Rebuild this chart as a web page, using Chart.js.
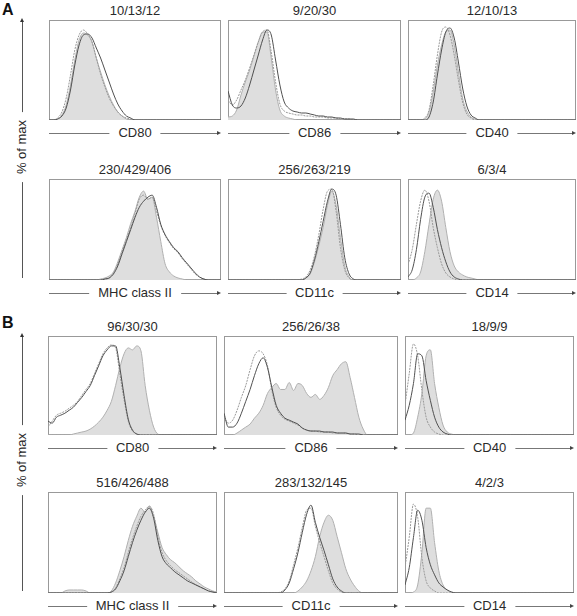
<!DOCTYPE html>
<html>
<head>
<meta charset="utf-8">
<script src="https://cdn.jsdelivr.net/npm/chart.js@4.4.0/dist/chart.umd.min.js"></script>
<style>
    body { margin: 0; background: #fff; font-family: "Liberation Sans", Arial, sans-serif; color: #2a2a2a; }
    #fig { position: relative; width: 577px; height: 616px; overflow: hidden; }
    .panel { position: absolute; }
    .title { position: absolute; font-size: 13px; line-height: 14px; text-align: center; white-space: nowrap; }
    .xlab { position: absolute; height: 14px; }
    .xlab .line { position: absolute; left: 0; right: 3px; top: 7px; height: 1px; background: #777; }
    .xlab .head { position: absolute; right: 0; top: 5px; width: 0; height: 0;
        border-top: 2.5px solid transparent; border-bottom: 2.5px solid transparent; border-left: 4px solid #444; }
    .xlab span { position: absolute; left: 50%; top: 0; transform: translateX(-50%); background: #fff;
        padding: 0 9px; font-size: 13px; line-height: 14px; white-space: nowrap; }
    .ylab { position: absolute; width: 14px; }
    .ylab .line { position: absolute; left: 7px; top: 3px; bottom: 0; width: 1px; background: #555; }
    .ylab .head { position: absolute; left: 5px; top: 0; width: 0; height: 0;
        border-left: 2.5px solid transparent; border-right: 2.5px solid transparent; border-bottom: 4px solid #333; }
    .ylab span { position: absolute; left: 7px; transform: translate(-50%, -50%) rotate(-90deg); background: #fff;
        padding: 0 8px; font-size: 13px; line-height: 14px; white-space: nowrap; }
    .letter { position: absolute; font-size: 16px; font-weight: bold; line-height: 16px; color: #111; }
</style>
</head>
<body>
<div id="fig"></div>
<script>
// x positions of histogram channels (log scale, % of axis)
const X = [0, 2.5, 5, 7.5, 10, 12.5, 15, 17.5, 20, 22.5, 25, 27.5, 30, 32.5, 35, 37.5, 40, 42.5, 45, 47.5,
    50, 52.5, 55, 57.5, 60, 62.5, 65, 67.5, 70, 72.5, 75, 77.5, 80, 82.5, 85, 87.5, 90, 92.5, 95, 97.5, 100];

const titles = ['10/13/12', '9/20/30', '12/10/13', '230/429/406', '256/263/219', '6/3/4',
    '96/30/30', '256/26/38', '18/9/9', '516/426/488', '283/132/145', '4/2/3'];
const markers = ['CD80', 'CD86', 'CD40', 'MHC class II', 'CD11c', 'CD14',
    'CD80', 'CD86', 'CD40', 'MHC class II', 'CD11c', 'CD14'];

// Panel A
const aCd80Fill = [0,0,1,5,15,35,60,80,87,85,78,62,48,35,24,15,8,4,1,0,0,0,0,0,0,0,0,0,0,0,0,0,0,0,0,0,0,0,0,0,0];
const aCd80Dark = [0,0,1,4,12,30,55,75,85,86,82,72,62,50,38,26,16,9,4,2,0,0,0,0,0,0,0,0,0,0,0,0,0,0,0,0,0,0,0,0,0];
const aCd80Dot  = [0,0,2,8,22,45,70,85,90,86,78,62,46,33,22,14,8,4,2,1,0,0,0,0,0,0,0,0,0,0,0,0,0,0,0,0,0,0,0,0,0];

const aCd86Fill = [3,4,10,25,38,50,64,78,88,88,62,30,10,4,2,1,0,0,0,0,0,0,0,0,0,0,0,0,0,0,0,0,0,0,0,0,0,0,0,0,0];
const aCd86Dark = [29,15,12,14,22,35,50,65,80,90,85,60,35,18,12,9,8,7,7,6,5,4,4,3,3,2,2,1,1,1,0,0,0,0,0,0,0,0,0,0,0];
const aCd86Dot  = [20,15,20,30,40,52,65,78,88,90,68,38,16,9,7,6,5,5,4,4,3,3,3,2,2,2,1,1,1,0,0,0,0,0,0,0,0,0,0,0,0];

const aCd40Fill = [0,0,0,0,1,8,28,55,75,88,90,75,48,22,9,3,1,0,0,0,0,0,0,0,0,0,0,0,0,0,0,0,0,0,0,0,0,0,0,0,0];
const aCd40Dark = [0,0,0,0,0,3,18,45,70,88,92,82,58,32,14,5,2,0,0,0,0,0,0,0,0,0,0,0,0,0,0,0,0,0,0,0,0,0,0,0,0];
const aCd40Dot  = [0,0,0,0,2,10,35,65,88,93,85,65,40,18,6,2,0,0,0,0,0,0,0,0,0,0,0,0,0,0,0,0,0,0,0,0,0,0,0,0,0];

const aMhcFill = [0,0,0,0,0,0,0,0,0,0,0,0,1,2,4,8,18,30,42,56,68,82,88,80,82,62,38,16,8,4,2,1,0,0,0,0,0,0,0,0,0];
const aMhcDark = [0,0,0,0,0,0,0,0,0,0,0,0,0,1,2,6,14,26,38,50,62,72,78,82,84,72,55,45,38,32,28,22,17,12,7,3,1,0,0,0,0];
const aMhcDot  = [0,0,0,0,0,0,0,0,0,0,0,0,0,1,2,7,16,28,40,52,66,80,84,80,82,68,54,44,37,31,27,21,16,11,6,3,1,0,0,0,0];

const aCd11cFill = [0,0,0,0,0,0,0,0,0,0,0,0,0,0,0,0,0,0,2,6,18,34,52,74,88,74,42,14,3,0,0,0,0,0,0,0,0,0,0,0,0];
const aCd11cDark = [0,0,0,0,0,0,0,0,0,0,0,0,0,0,0,0,0,0,2,7,20,38,58,78,90,84,55,22,6,1,0,0,0,0,0,0,0,0,0,0,0];
const aCd11cDot  = [0,0,0,0,0,0,0,0,0,0,0,0,0,0,0,0,0,1,3,10,24,45,70,88,90,68,32,10,2,0,0,0,0,0,0,0,0,0,0,0,0];

const aCd14Fill = [0,0,2,8,28,55,80,89,78,52,28,14,8,5,3,2,1,0,0,0,0,0,0,0,0,0,0,0,0,0,0,0,0,0,0,0,0,0,0,0,0];
const aCd14Dark = [3,10,30,60,82,86,72,50,32,18,8,3,1,0,0,0,0,0,0,0,0,0,0,0,0,0,0,0,0,0,0,0,0,0,0,0,0,0,0,0,0];
const aCd14Dot  = [15,30,55,78,89,78,52,32,16,7,3,1,0,0,0,0,0,0,0,0,0,0,0,0,0,0,0,0,0,0,0,0,0,0,0,0,0,0,0,0,0];

// Panel B
const bCd80Fill = [0,0,0,0,0,0,1,2,3,4,6,9,13,18,25,34,50,68,82,88,86,90,85,50,25,8,1,0,0,0,0,0,0,0,0,0,0,0,0,0,0];
const bCd80Dark = [14,12,18,20,22,25,28,33,38,44,50,60,70,80,86,90,90,68,40,16,5,1,0,0,0,0,0,0,0,0,0,0,0,0,0,0,0,0,0,0,0];
const bCd80Dot  = [8,14,20,22,24,27,30,34,40,46,52,62,72,82,88,91,88,62,36,14,4,1,0,0,0,0,0,0,0,0,0,0,0,0,0,0,0,0,0,0,0];

const bCd86Fill = [0,0,0,2,5,8,11,17,22,30,42,48,52,46,46,53,45,52,50,42,38,41,36,40,48,60,66,72,74,58,38,18,6,0,0,0,0,0,0,0,0];
const bCd86Dark = [22,8,8,12,22,34,46,60,72,78,68,48,30,22,17,15,13,11,7,5,4,4,4,3,3,3,2,2,2,1,1,1,0,0,0,0,0,0,0,0,0];
const bCd86Dot  = [18,12,15,25,38,50,66,80,85,82,70,45,28,20,16,14,12,10,7,5,4,4,3,3,3,2,2,2,2,1,1,0,0,0,0,0,0,0,0,0,0];

const bCd40Fill = [0,0,2,18,42,80,86,52,28,10,3,1,0,0,0,0,0,0,0,0,0,0,0,0,0,0,0,0,0,0,0,0,0,0,0,0,0,0,0,0,0];
const bCd40Dark = [15,30,52,82,80,55,35,18,8,3,1,0,0,0,0,0,0,0,0,0,0,0,0,0,0,0,0,0,0,0,0,0,0,0,0,0,0,0,0,0,0];
const bCd40Dot  = [30,62,92,80,45,18,8,3,1,0,0,0,0,0,0,0,0,0,0,0,0,0,0,0,0,0,0,0,0,0,0,0,0,0,0,0,0,0,0,0,0];

const bMhcFill = [0,0,0,0,2,3,3,3,3,2,0,0,0,0,0,2,10,22,36,52,66,76,84,80,86,76,60,45,38,33,30,26,22,19,16,12,9,6,4,2,1];
const bMhcDark = [0,0,0,0,0,0,0,0,0,0,0,0,0,0,0,1,4,12,22,36,50,62,72,80,84,74,52,36,29,25,21,18,15,12,10,8,6,4,2,1,0];
const bMhcDot  = [0,0,0,0,0,0,0,0,0,0,0,0,0,0,0,1,5,14,25,40,54,66,76,82,86,78,56,40,32,27,23,20,17,14,11,8,6,4,2,1,0];

const bCd11cFill = [0,0,0,0,0,0,0,0,0,0,0,0,0,0,0,0,0,2,6,12,22,36,56,70,77,72,56,40,24,14,7,2,0,0,0,0,0,0,0,0,0];
const bCd11cDark = [0,0,0,0,0,0,0,0,0,0,0,0,0,0,3,10,24,40,60,78,87,70,55,42,28,14,6,2,0,0,0,0,0,0,0,0,0,0,0,0,0];
const bCd11cDot  = [0,0,0,0,0,0,0,0,0,0,0,0,0,1,4,12,28,45,65,82,84,66,50,36,22,10,4,1,0,0,0,0,0,0,0,0,0,0,0,0,0];

const bCd14Fill = [0,0,1,8,40,84,84,50,22,8,3,1,0,0,0,0,0,0,0,0,0,0,0,0,0,0,0,0,0,0,0,0,0,0,0,0,0,0,0,0,0];
const bCd14Dark = [8,25,55,82,72,45,28,18,10,6,3,1,0,0,0,0,0,0,0,0,0,0,0,0,0,0,0,0,0,0,0,0,0,0,0,0,0,0,0,0,0];
const bCd14Dot  = [25,55,88,75,35,12,5,2,0,0,0,0,0,0,0,0,0,0,0,0,0,0,0,0,0,0,0,0,0,0,0,0,0,0,0,0,0,0,0,0,0];

const series = [
    [aCd80Fill, aCd80Dark, aCd80Dot], [aCd86Fill, aCd86Dark, aCd86Dot], [aCd40Fill, aCd40Dark, aCd40Dot],
    [aMhcFill, aMhcDark, aMhcDot], [aCd11cFill, aCd11cDark, aCd11cDot], [aCd14Fill, aCd14Dark, aCd14Dot],
    [bCd80Fill, bCd80Dark, bCd80Dot], [bCd86Fill, bCd86Dark, bCd86Dot], [bCd40Fill, bCd40Dark, bCd40Dot],
    [bMhcFill, bMhcDark, bMhcDot], [bCd11cFill, bCd11cDark, bCd11cDot], [bCd14Fill, bCd14Dark, bCd14Dot]
];

// Layout (pixel boxes of each histogram frame)
const colsA = [[49, 220], [228, 400], [408, 575]];
const colsB = [[48, 216], [224, 397], [405, 573]];
const rowBoxes = [[20, 119], [179, 279], [336, 434], [492, 592]];

const fig = document.getElementById('fig');

// Frame around plot area
const framePlugin = {
    id: 'frame',
    beforeDatasetsDraw(chart) {
        const a = chart.chartArea;
        const ctx = chart.ctx;
        ctx.save();
        ctx.strokeStyle = '#999';
        ctx.lineWidth = 1;
        ctx.strokeRect(a.left + 0.5, a.top + 0.5, a.right - a.left - 1, a.bottom - a.top - 1);
        ctx.restore();
    }
};

function toPoints(arr) {
    return X.map((x, i) => ({ x: x, y: arr[i] }));
}

function addPanel(idx) {
    const row = Math.floor(idx / 3);
    const col = idx % 3;
    const cols = row < 2 ? colsA : colsB;
    const [left, right] = cols[col];
    const [top, bottom] = rowBoxes[row];
    const w = right - left + 1;
    const h = bottom - top + 1;

    // title
    const t = document.createElement('div');
    t.className = 'title';
    t.style.left = left + 'px';
    t.style.width = w + 'px';
    t.style.top = (top - 16) + 'px';
    t.textContent = titles[idx];
    fig.appendChild(t);

    // x axis label with arrow
    const xl = document.createElement('div');
    xl.className = 'xlab';
    xl.style.left = left + 'px';
    xl.style.width = w + 'px';
    xl.style.top = (bottom + 7) + 'px';
    xl.innerHTML = '<div class="line"></div><div class="head"></div><span>' + markers[idx] + '</span>';
    fig.appendChild(xl);

    const wrap = document.createElement('div');
    wrap.className = 'panel';
    wrap.style.left = left + 'px';
    wrap.style.top = top + 'px';
    const canvas = document.createElement('canvas');
    canvas.width = w;
    canvas.height = h;
    wrap.appendChild(canvas);
    fig.appendChild(wrap);

    const [fillData, darkData, dotData] = series[idx];
    new Chart(canvas, {
        type: 'line',
        data: {
            datasets: [
                {
                    data: toPoints(fillData),
                    fill: 'origin',
                    backgroundColor: '#dedede',
                    borderColor: '#b0b0b0',
                    borderWidth: 1,
                    pointRadius: 0,
                    cubicInterpolationMode: 'monotone',
                    order: 3
                },
                {
                    data: toPoints(dotData),
                    fill: false,
                    borderColor: '#999',
                    borderWidth: 1,
                    borderDash: [2, 1],
                    pointRadius: 0,
                    cubicInterpolationMode: 'monotone',
                    order: 2
                },
                {
                    data: toPoints(darkData),
                    fill: false,
                    borderColor: '#505050',
                    borderWidth: 1,
                    pointRadius: 0,
                    cubicInterpolationMode: 'monotone',
                    order: 1
                }
            ]
        },
        options: {
            responsive: false,
            animation: false,
            layout: { padding: 0 },
            plugins: { legend: { display: false }, tooltip: { enabled: false } },
            scales: {
                x: { type: 'linear', min: 0, max: 100, display: false },
                y: { min: 0, max: 100, display: false }
            }
        },
        plugins: [framePlugin]
    });
}

function addYArrow(top, bottom, textY) {
    const yl = document.createElement('div');
    yl.className = 'ylab';
    yl.style.left = '15px';
    yl.style.top = top + 'px';
    yl.style.height = (bottom - top) + 'px';
    yl.innerHTML = '<div class="line"></div><div class="head"></div><span style="top:' + (textY - top) + 'px">% of max</span>';
    fig.appendChild(yl);
}

function addLetter(txt, x, y) {
    const l = document.createElement('div');
    l.className = 'letter';
    l.style.left = x + 'px';
    l.style.top = y + 'px';
    l.textContent = txt;
    fig.appendChild(l);
}

document.addEventListener('DOMContentLoaded', function() {
    for (let i = 0; i < 12; i++) addPanel(i);
    addYArrow(18, 278, 147);
    addYArrow(333, 591, 460);
    addLetter('A', 2, 2);
    addLetter('B', 2, 315);
});
</script>
</body>
</html>
